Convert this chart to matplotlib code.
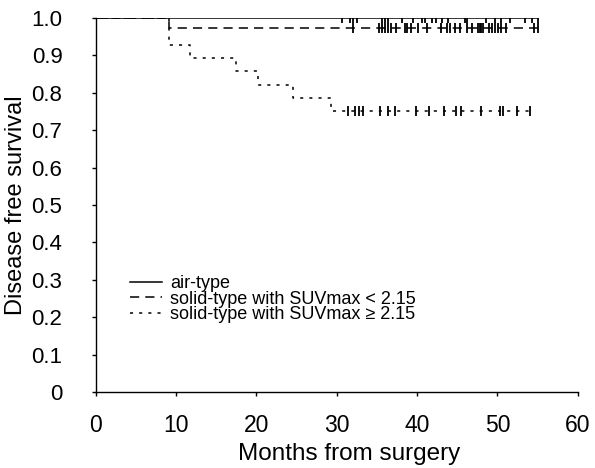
import matplotlib
matplotlib.use('Agg')
import matplotlib.pyplot as plt

plt.rcParams['font.family'] = ['Liberation Sans', 'DejaVu Sans']

# Curvas de Kaplan-Meier (tiempos de evento en meses, supervivencia)
air_t = [0, 55.1]
air_s = [1.0, 1.0]
air_cens = [30.6, 31.6, 32.0, 32.5, 35.6, 36.0, 36.4, 38.1, 39.5, 40.6, 41.0,
            41.8, 42.4, 43.1, 43.8, 46.0, 46.2, 48.6, 49.7, 50.5, 51.6, 53.4,
            54.3, 55.1]

low_t = [0, 9.1, 55.1]
low_s = [1.0, 0.974, 0.974]
low_cens = [32.0, 35.2, 35.6, 36.0, 36.4, 36.8, 37.4, 38.5, 38.7, 39.3, 40.1,
            41.2, 43.0, 43.7, 44.1, 44.7, 45.3, 46.2, 46.8, 47.6, 47.8, 48.0,
            48.2, 48.9, 49.3, 49.7, 50.1, 50.5, 51.1, 54.5, 55.1]

high_t = [0, 9.1, 11.7, 17.5, 20.2, 24.5, 29.3, 54.0]
high_s = [1.0, 26/28, 25/28, 24/28, 23/28, 22/28, 21/28, 21/28]
high_cens = [31.4, 32.3, 32.8, 33.3, 35.4, 36.4, 37.2, 39.9, 41.5, 43.4, 44.9,
             45.5, 48.0, 50.3, 50.7, 52.4, 54.0]

labels = ['air-type', 'solid-type with SUVmax < 2.15',
          'solid-type with SUVmax \u2265 2.15']


def surv_at(ts, ss, x):
    v = ss[0]
    for t, s in zip(ts, ss):
        if t <= x:
            v = s
    return v


fig = plt.figure(figsize=(5.95, 4.68), dpi=100)
ax = fig.add_axes([0.161, 0.162, 0.81, 0.8])

curvas = [(air_t, air_s, air_cens, '-'),
          (low_t, low_s, low_cens, (0, (6, 4))),
          (high_t, high_s, high_cens, (0, (2, 4)))]

for (ts, ss, cens, ls), lab in zip(curvas, labels):
    ax.plot(ts, ss, drawstyle='steps-post', color='black', lw=1.1,
            linestyle=ls, label=lab)
    ax.plot(cens, [surv_at(ts, ss, c) for c in cens], linestyle='none',
            marker='|', markersize=7, markeredgewidth=1.3, color='black')

ax.set_xlim(0, 60)
ax.set_ylim(0, 1.0)
ax.set_xticks(range(0, 61, 10))
ax.set_yticks([i / 10 for i in range(11)])
ax.set_yticklabels(['0'] + ['0.%d' % i for i in range(1, 10)] + ['1.0'])

for s in ['top', 'right']:
    ax.spines[s].set_visible(False)
for s in ['left', 'bottom']:
    ax.spines[s].set_linewidth(1.0)

ax.tick_params(direction='out', length=3, width=1, labelsize=16)
ax.tick_params(axis='x', labelsize=16.5, pad=13)
ax.tick_params(axis='y', pad=21)
ax.set_xlabel('Months from surgery', fontsize=17.5, labelpad=3)
ax.xaxis.set_label_coords(0.525, -0.135)
ax.set_ylabel('Disease free survival', fontsize=17, labelpad=3)

ax.legend(loc='lower left', bbox_to_anchor=(0.055, 0.165), frameon=False,
          fontsize=13, handlelength=1.8, handletextpad=0.45,
          labelspacing=-0.08, borderaxespad=0)

plt.savefig('out.png', dpi=100)
